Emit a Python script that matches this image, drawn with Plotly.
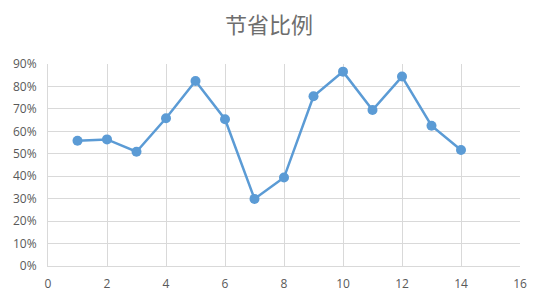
import plotly.graph_objects as go

x_vals = [1, 2, 3, 4, 5, 6, 7, 8, 9, 10, 11, 12, 13, 14]
ratio = [0.558, 0.564, 0.509, 0.658, 0.824, 0.654, 0.299, 0.394, 0.756, 0.866, 0.695, 0.844, 0.625, 0.517]
title = "节省比例"

fig = go.Figure()
fig.add_trace(go.Scatter(
    x=x_vals, y=ratio, mode="lines+markers",
    line=dict(color="#5B9BD5", width=2.5),
    marker=dict(color="#5B9BD5", size=10),
    showlegend=False, cliponaxis=False,
))
fig.update_layout(
    width=538, height=305,
    margin=dict(l=48, r=18, t=64, b=39),
    paper_bgcolor="white", plot_bgcolor="white",
    title=dict(text=title, x=0.5, xanchor="center", y=0.918, yanchor="middle",
               font=dict(family="Noto Sans CJK SC", size=22, color="#6E6E6E")),
    font=dict(family="Open Sans", size=12, color="#595959"),
    xaxis=dict(range=[0, 16], dtick=2, tick0=0, showgrid=True, gridcolor="#D9D9D9",
               gridwidth=1, zeroline=False, showline=True, linecolor="#D9D9D9",
               ticks="", ticklen=0, mirror=False, ticklabelstandoff=7),
    yaxis=dict(range=[0, 0.9], dtick=0.1, tickformat=".0%", showgrid=True,
               gridcolor="#D9D9D9", gridwidth=1, zeroline=False, showline=True,
               linecolor="#D9D9D9", ticks="", ticklen=0, ticklabelstandoff=8),
)
fig.write_html("out.html")
